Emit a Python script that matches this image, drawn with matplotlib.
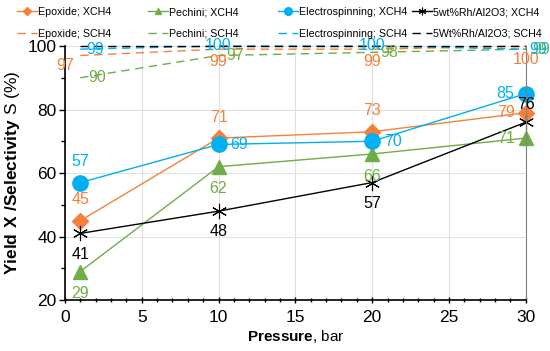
import numpy as np
import matplotlib.pyplot as plt
from matplotlib.ticker import MultipleLocator

plt.rcParams['font.family'] = ['Liberation Sans', 'DejaVu Sans']
plt.rcParams['mathtext.fontset'] = 'custom'
plt.rcParams['mathtext.rm'] = 'Liberation Sans'
plt.rcParams['mathtext.bf'] = 'Liberation Sans:bold'

# data
pressure = [1, 10, 20, 30]

epoxide_x = [45, 71, 73, 79]
pechini_x = [29, 62, 66, 71]
electro_x = [57, 69, 70, 85]
rh_x = [41, 48, 57, 76]

epoxide_s = [97, 99, 99, 100]
pechini_s = [90, 97, 98, 99]
electro_s = [99, 100, 100, 99]
rh_s = [100, 100, 100, 100]

ORANGE = '#F4813A'
GREEN = '#70AD47'
BLUE = '#00B0F0'
BLACK = '#000000'

fig = plt.figure(figsize=(5.5, 3.51), dpi=100)
ax = fig.add_axes([0.118, 0.145, 0.838, 0.724])

# label offsets (points) per series point
def put_labels(xs, ys, color, offsets):
    for x, y, (dx, dy) in zip(xs, ys, offsets):
        ax.annotate(f'{y:g}', (x, y), xytext=(dx, dy), textcoords='offset points',
                    ha='center', va='center', color=color, fontsize=11.5,
                    annotation_clip=False)

h = {}
h['ex'], = ax.plot(pressure, epoxide_x, color=ORANGE, lw=1, marker='D', ms=8.5, label='Epoxide; XCH4')
h['px'], = ax.plot(pressure, pechini_x, color=GREEN, lw=1, marker='^', ms=10, label='Pechini; XCH4')
h['elx'], = ax.plot(pressure, electro_x, color=BLUE, lw=1, marker='o', ms=11, label='Electrospinning; XCH4')
h['rx'], = ax.plot(pressure, rh_x, color=BLACK, lw=1, marker=(6, 2, 0), ms=11, mew=0.8,
                   label='5wt%Rh/Al2O3; XCH4')

h['es'], = ax.plot(pressure, epoxide_s, color=ORANGE, lw=1, ls=(0, (6, 4)), label='Epoxide; SCH4')
h['ps'], = ax.plot(pressure, pechini_s, color=GREEN, lw=1, ls=(0, (6, 4)), label='Pechini; SCH4')
h['els'], = ax.plot(pressure, electro_s, color=BLUE, lw=1, ls=(0, (6, 4)), label='Electrospinning; SCH4')
h['rs'], = ax.plot(pressure, rh_s, color=BLACK, lw=1, ls=(0, (6, 4)), label='5Wt%Rh/Al2O3; SCH4')
for line in h.values():
    line.set_clip_on(False)

put_labels(pressure, epoxide_x, ORANGE, [(0, 15), (0, 15), (0, 15), (-14, 0)])
put_labels(pressure, pechini_x, GREEN, [(0, -16), (0, -16), (0, -16), (-14, 0)])
put_labels(pressure, electro_x, BLUE, [(0, 15), (15, 0), (15, 0), (-15, 0)])
put_labels(pressure, rh_x, BLACK, [(0, -15), (0, -15), (0, -15), (0, 13)])
put_labels(pressure, epoxide_s, ORANGE, [(-11, -7), (0, -9), (0, -9), (0, -10)])
put_labels(pressure, pechini_s, GREEN, [(12, 0), (12, 0), (12, 0), (11, 0)])
put_labels(pressure, electro_s, BLUE, [(11, 0), (0, 0), (0, 0), (9, 0)])

ax.set_xlim(0, 30)
ax.set_ylim(20, 100)
ax.xaxis.set_major_locator(MultipleLocator(5))
ax.xaxis.set_minor_locator(MultipleLocator(1))
ax.yaxis.set_major_locator(MultipleLocator(20))
ax.yaxis.set_minor_locator(MultipleLocator(10))
ax.tick_params(which='major', direction='out', length=4, width=1, labelsize=12.5)
ax.tick_params(which='minor', direction='out', length=3, width=1)
ax.tick_params(axis='x', which='both', direction='inout', pad=5)
ax.tick_params(axis='y', which='major', pad=2)
ax.grid(True, which='major', color='#E0E0E0', lw=0.8)
ax.set_axisbelow(True)

for s in ['left', 'bottom']:
    ax.spines[s].set_linewidth(1.2)
ax.spines['top'].set_visible(False)
ax.spines['right'].set_color('#808080')

ax.set_xlabel(r'$\bf{Pressure}$, bar', fontsize=11, labelpad=2)
ax.set_ylabel(r'$\bf{Yield\ X\ /Selectivity}$ S (%)', fontsize=12.5, labelpad=4)

# one small legend per column, like the reference
columns = [('ex', 'es', 17), ('px', 'ps', 148), ('elx', 'els', 278), ('rx', 'rs', 412)]
for a, b, px in columns:
    fig.legend([h[a], h[b]], [h[a].get_label(), h[b].get_label()],
               loc='upper left', bbox_to_anchor=(px / 550, 0.98),
               frameon=False, fontsize=7.7, handlelength=1.9, markerscale=0.5,
               handletextpad=0.1, labelspacing=1.1, borderpad=0, borderaxespad=0)

fig.savefig('out.png', dpi=100)
